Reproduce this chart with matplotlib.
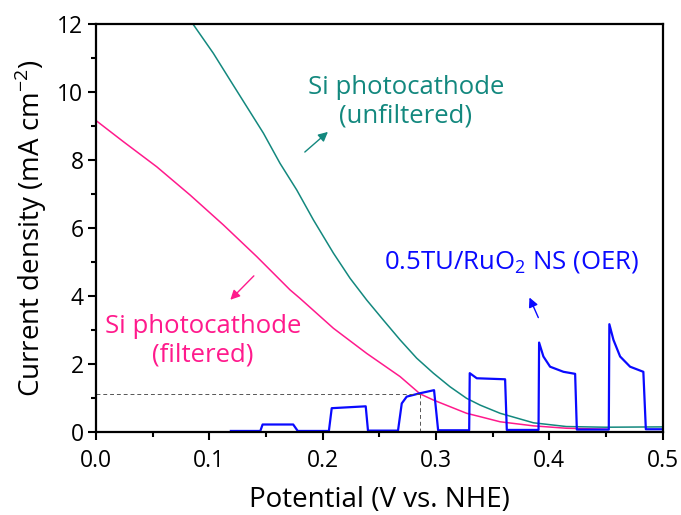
import matplotlib
matplotlib.use("Agg")
import matplotlib.pyplot as plt
from matplotlib.ticker import MultipleLocator

plt.rcParams['font.family'] = ['Open Sans', 'DejaVu Sans']
plt.rcParams['mathtext.fontset'] = 'custom'
plt.rcParams['mathtext.rm'] = 'Open Sans'

# Si photocathode (unfiltered)
teal_v = [0.0855, 0.1035, 0.1183, 0.133, 0.1477, 0.1624, 0.1771, 0.1918, 0.2095, 0.2242,
          0.2389, 0.2536, 0.2683, 0.283, 0.2977, 0.3124, 0.327, 0.339, 0.3566, 0.386,
          0.415, 0.45, 0.499]
teal_j = [12.0, 11.14, 10.35, 9.57, 8.79, 7.9, 7.12, 6.24, 5.26, 4.52,
          3.88, 3.29, 2.71, 2.17, 1.73, 1.33, 0.99, 0.79, 0.55, 0.27,
          0.16, 0.14, 0.15]

# Si photocathode (filtered)
pink_v = [0.0, 0.0241, 0.0536, 0.083, 0.1124, 0.1418, 0.1712, 0.180, 0.2095, 0.2389,
          0.2683, 0.286, 0.2977, 0.327, 0.339, 0.3566, 0.386, 0.415, 0.451]
pink_j = [9.16, 8.54, 7.8, 6.97, 6.09, 5.16, 4.18, 3.93, 3.05, 2.31,
          1.63, 1.12, 0.94, 0.55, 0.45, 0.30, 0.18, 0.11, 0.08]

# 0.5TU/RuO2 NS (OER), chopped light
blue_v = [0.119, 0.145, 0.147, 0.174, 0.178, 0.2055, 0.208, 0.238, 0.240,
          0.2665, 0.2698, 0.2742, 0.286, 0.2983, 0.3019,
          0.3293, 0.3298, 0.336, 0.361, 0.3625,
          0.3905, 0.391, 0.3948, 0.4007, 0.4125, 0.4228, 0.4243,
          0.4525, 0.453, 0.4566, 0.4625, 0.4713, 0.483, 0.4852, 0.4995]
blue_j = [0.03, 0.03, 0.22, 0.22, 0.03, 0.03, 0.70, 0.755, 0.04,
          0.04, 0.84, 1.04, 1.14, 1.23, 0.05,
          0.05, 1.73, 1.58, 1.55, 0.06,
          0.06, 2.63, 2.22, 1.92, 1.77, 1.71, 0.07,
          0.07, 3.17, 2.71, 2.22, 1.92, 1.77, 0.08, 0.08]

# onset marker
onset_v = 0.2855
onset_j = 1.11

teal = '#13887e'
pink = '#ff1a8c'
blue = '#0a0aff'

fig = plt.figure(figsize=(6.81, 5.15), dpi=100)
ax = fig.add_axes([0.141, 0.1612, 0.832, 0.7922])

ax.plot(teal_v, teal_j, color=teal, lw=1.1)
ax.plot(pink_v, pink_j, color=pink, lw=1.1)
ax.plot(blue_v, blue_j, color=blue, lw=1.6)

ax.plot([0, onset_v], [onset_j, onset_j], color='#555555', lw=0.7, ls=(0, (4, 3)))
ax.plot([onset_v, onset_v], [0, onset_j], color='#555555', lw=0.7, ls=(0, (4, 3)))

ax.set_xlim(0, 0.5)
ax.set_ylim(0, 12)
ax.xaxis.set_major_locator(MultipleLocator(0.1))
ax.xaxis.set_minor_locator(MultipleLocator(0.05))
ax.yaxis.set_major_locator(MultipleLocator(2))
ax.yaxis.set_minor_locator(MultipleLocator(1))
ax.set_xticklabels([f'{v:.1f}' for v in ax.get_xticks()])
ax.tick_params(which='both', direction='out', width=1.5, labelsize=16.5, top=False, right=False)
ax.tick_params(which='major', length=6, pad=3)
ax.tick_params(axis='x', which='major', pad=6)
ax.tick_params(which='minor', length=3.5)
for s in ax.spines.values():
    s.set_linewidth(1.6)

ax.set_xlabel('Potential (V vs. NHE)', fontsize=20, labelpad=9.5)
ax.set_ylabel(r'Current density (mA cm$^{\mathregular{-2}}$)', fontsize=20, labelpad=6)

ax.text(0.2736, 9.72, 'Si photocathode\n(unfiltered)', color=teal, fontsize=18.5,
        ha='center', va='center', linespacing=1.2)
ax.annotate('', xy=(0.2065, 8.88), xytext=(0.1824, 8.18),
            arrowprops=dict(arrowstyle='-|>', color=teal, lw=1, mutation_scale=14))

ax.text(0.3667, 5.01, r'0.5TU/RuO$_{\mathregular{2}}$ NS (OER)', color=blue, fontsize=18.5,
        ha='center', va='center')
ax.annotate('', xy=(0.3815, 4.03), xytext=(0.3913, 3.29),
            arrowprops=dict(arrowstyle='-|>', color=blue, lw=1, mutation_scale=14))

ax.text(0.0943, 2.68, 'Si photocathode\n(filtered)', color=pink, fontsize=18.5,
        ha='center', va='center', linespacing=1.2)
ax.annotate('', xy=(0.1168, 3.83), xytext=(0.141, 4.65),
            arrowprops=dict(arrowstyle='-|>', color=pink, lw=1, mutation_scale=14))

fig.savefig('out.png', dpi=100)
